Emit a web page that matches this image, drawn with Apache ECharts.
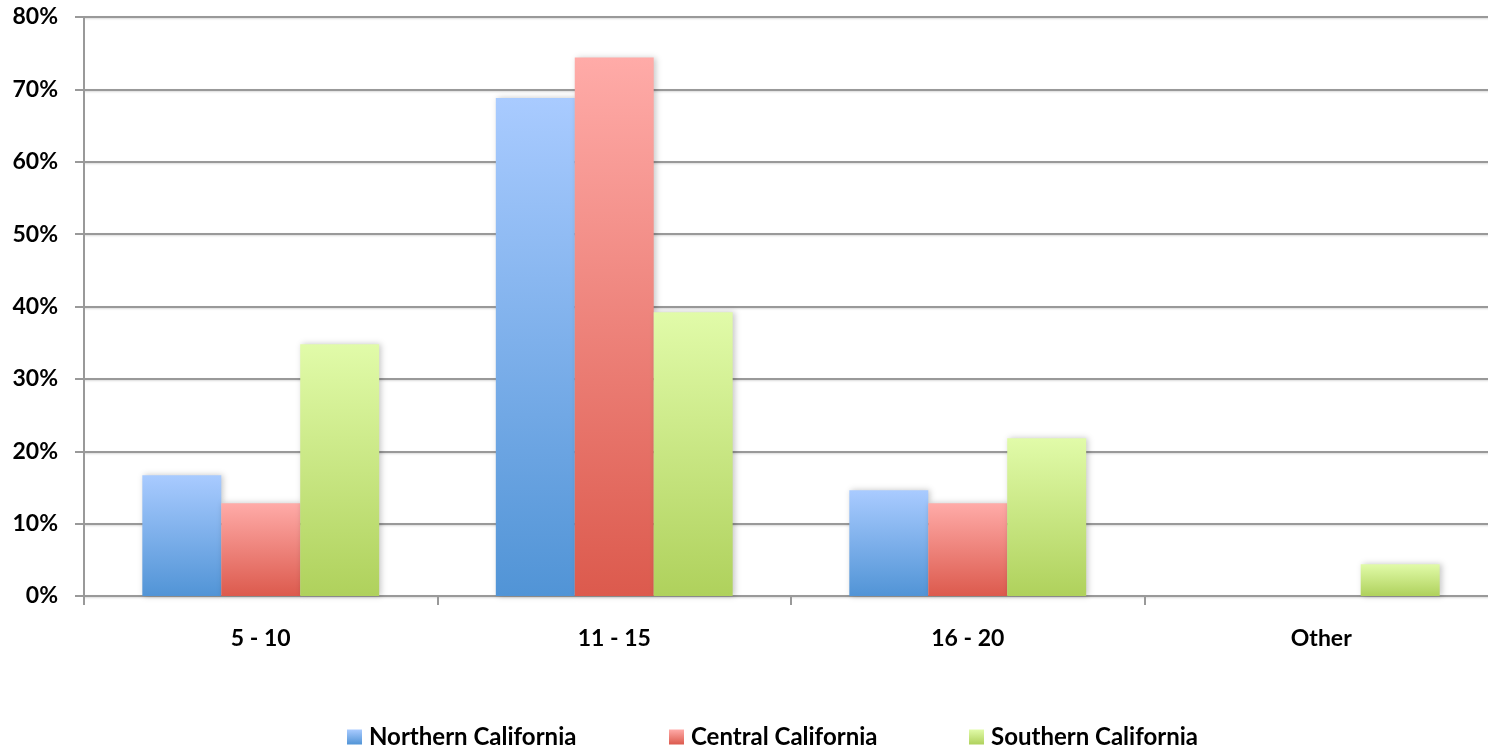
<!DOCTYPE html>
<html>
<head>
<meta charset="utf-8">
<script src="https://cdn.jsdelivr.net/npm/echarts@6/dist/echarts.min.js"></script>
<style>html,body{margin:0;padding:0;background:#fff;overflow:hidden}#c{width:1510px;height:747px}</style>
</head>
<body>
<div id="c"></div>
<script>
const categories = ['5 - 10', '11 - 15', '16 - 20', 'Other'];
const northern = [16.7, 68.8, 14.6, 0];
const central = [12.8, 74.4, 12.8, 0];
const southern = [34.8, 39.2, 21.8, 4.4];
const seriesNames = ['Northern California', 'Central California', 'Southern California'];

function grad(top, bottom) {
  return new echarts.graphic.LinearGradient(0, 0, 0, 1, [
    {offset: 0, color: top}, {offset: 1, color: bottom}
  ]);
}
const colors = [
  grad('#a9cbff', '#5194d6'),
  grad('#ffaba8', '#dc5a4d'),
  grad('#e1fba9', '#afd15c')
];
const font = 'Lato, "Open Sans", sans-serif';
function mk(name, data, i) {
  return {
    name: name, type: 'bar', data: data,
    barGap: '0%', barCategoryGap: '33%',
    itemStyle: {color: colors[i], shadowBlur: 6, shadowColor: 'rgba(0,0,0,0.22)', shadowOffsetX: 2, shadowOffsetY: 0},
    emphasis: {disabled: true}
  };
}
const legendX = [347, 669, 969];
const legends = seriesNames.map((n, i) => ({
  data: [n], left: legendX[i], top: 725,
  itemWidth: 15, itemHeight: 15, itemGap: 0,
  icon: 'rect',
  padding: 0,
  textStyle: {fontFamily: font, fontWeight: 'bold', fontSize: 24, color: '#000', padding: [0, 0, 0, 2]}
}));
const chart = echarts.init(document.getElementById('c'), null, {renderer: 'canvas'});
chart.setOption({
  animation: false,
  backgroundColor: '#fff',
  grid: {left: 84, top: 17, right: 12, height: 579, containLabel: false},
  legend: legends,
  xAxis: {
    type: 'category', data: categories,
    axisLine: {lineStyle: {color: '#999', width: 2}},
    axisTick: {show: true, length: 9, lineStyle: {color: '#999', width: 2}},
    axisLabel: {fontFamily: font, fontWeight: 'bold', fontSize: 23, color: '#000', margin: 31}
  },
  yAxis: {
    type: 'value', min: 0, max: 80, interval: 10,
    axisLine: {show: true, lineStyle: {color: '#999', width: 2}},
    axisTick: {show: true, length: 9, lineStyle: {color: '#999', width: 2}},
    splitLine: {lineStyle: {color: '#999', width: 2, shadowColor: 'rgba(0,0,0,0.15)', shadowBlur: 2, shadowOffsetY: 1}},
    axisLabel: {fontFamily: font, fontWeight: 'bold', fontSize: 23, color: '#000', margin: 26, formatter: '{value}%'}
  },
  series: [mk(seriesNames[0], northern, 0), mk(seriesNames[1], central, 1), mk(seriesNames[2], southern, 2)]
});
</script>
</body>
</html>
